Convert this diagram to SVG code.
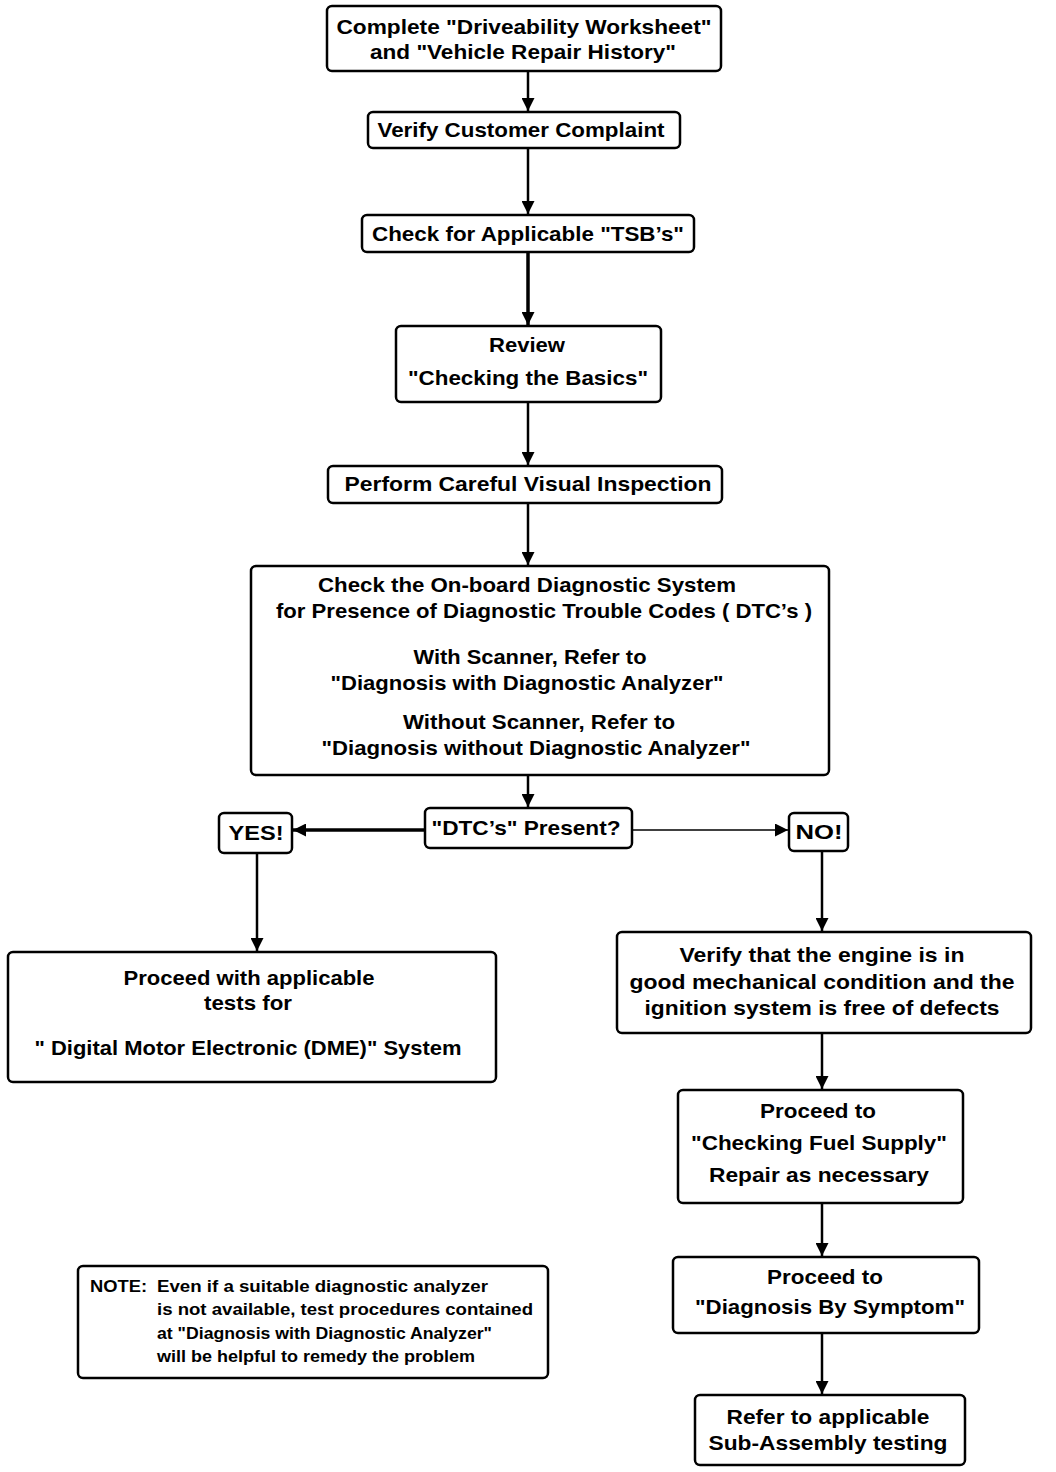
<svg xmlns="http://www.w3.org/2000/svg" width="1056" height="1472" viewBox="0 0 1056 1472">
<defs>
<marker id="ah" viewBox="0 0 10 10" refX="10" refY="5" markerWidth="14" markerHeight="13" markerUnits="userSpaceOnUse" orient="auto"><path d="M0,0 L10,5 L0,10 Z" fill="#000"/></marker>
</defs>
<style>
.box{fill:#fff;stroke:#000;stroke-width:2.5}
.t{font-family:"Liberation Sans",Arial,sans-serif;font-weight:bold;font-size:21px;text-anchor:middle;fill:#000}
.n{font-family:"Liberation Sans",Arial,sans-serif;font-weight:bold;font-size:16px;fill:#000}
.c{stroke:#000;stroke-width:2.5;fill:none;marker-end:url(#ah)}
.thin{stroke-width:1.5}
.thick{stroke-width:3.5}
</style>
<rect width="1056" height="1472" fill="#fff"/>
<g id="connectors">
<line class="c" x1="528" y1="71" x2="528" y2="111"/>
<line class="c" x1="528" y1="148" x2="528" y2="214"/>
<line class="c thick" x1="528" y1="252" x2="528" y2="325"/>
<line class="c" x1="528" y1="402" x2="528" y2="465"/>
<line class="c" x1="528" y1="503" x2="528" y2="565"/>
<line class="c" x1="528" y1="775" x2="528" y2="807"/>
<line class="c thick" x1="425" y1="830" x2="293" y2="830"/>
<line class="c thin" x1="632" y1="830" x2="788" y2="830"/>
<line class="c" x1="257" y1="853" x2="257" y2="951"/>
<line class="c" x1="822" y1="851" x2="822" y2="931"/>
<line class="c" x1="822" y1="1033" x2="822" y2="1089"/>
<line class="c" x1="822" y1="1203" x2="822" y2="1256"/>
<line class="c" x1="822" y1="1333" x2="822" y2="1394"/>
</g>
<g id="n1"><rect class="box" x="327" y="6" width="394" height="65" rx="5"/>
<text class="t" x="524" y="34" textLength="375" lengthAdjust="spacingAndGlyphs">Complete "Driveability Worksheet"</text>
<text class="t" x="523" y="59" textLength="306" lengthAdjust="spacingAndGlyphs">and "Vehicle Repair History"</text></g>
<g id="n2"><rect class="box" x="368" y="112" width="312" height="36" rx="5"/>
<text class="t" x="521" y="137" textLength="287" lengthAdjust="spacingAndGlyphs">Verify Customer Complaint</text></g>
<g id="n3"><rect class="box" x="362" y="215" width="332" height="37" rx="5"/>
<text class="t" x="528" y="241" textLength="312" lengthAdjust="spacingAndGlyphs">Check for Applicable "TSB’s"</text></g>
<g id="n4"><rect class="box" x="396" y="326" width="265" height="76" rx="5"/>
<text class="t" x="527" y="352" textLength="76" lengthAdjust="spacingAndGlyphs">Review</text>
<text class="t" x="528" y="385" textLength="240" lengthAdjust="spacingAndGlyphs">"Checking the Basics"</text></g>
<g id="n5"><rect class="box" x="328" y="466" width="394" height="37" rx="5"/>
<text class="t" x="528" y="491" textLength="367" lengthAdjust="spacingAndGlyphs">Perform Careful Visual Inspection</text></g>
<g id="n6"><rect class="box" x="251" y="566" width="578" height="209" rx="5"/>
<text class="t" x="527" y="592" textLength="418" lengthAdjust="spacingAndGlyphs">Check the On-board Diagnostic System</text>
<text class="t" x="544" y="618" textLength="536" lengthAdjust="spacingAndGlyphs">for Presence of Diagnostic Trouble Codes ( DTC’s )</text>
<text class="t" x="530" y="664" textLength="233" lengthAdjust="spacingAndGlyphs">With Scanner, Refer to</text>
<text class="t" x="527" y="690" textLength="393" lengthAdjust="spacingAndGlyphs">"Diagnosis with Diagnostic Analyzer"</text>
<text class="t" x="539" y="729" textLength="272" lengthAdjust="spacingAndGlyphs">Without Scanner, Refer to</text>
<text class="t" x="536" y="755" textLength="429" lengthAdjust="spacingAndGlyphs">"Diagnosis without Diagnostic Analyzer"</text></g>
<g id="n7"><rect class="box" x="425" y="808" width="207" height="40" rx="5"/>
<text class="t" x="526" y="835" textLength="189" lengthAdjust="spacingAndGlyphs">"DTC’s" Present?</text></g>
<g id="yes"><rect class="box" x="219" y="813" width="73" height="40" rx="5"/>
<text class="t" x="256" y="840" textLength="55" lengthAdjust="spacingAndGlyphs">YES!</text></g>
<g id="no"><rect class="box" x="789" y="813" width="59" height="38" rx="5"/>
<text class="t" x="819" y="839" textLength="47" lengthAdjust="spacingAndGlyphs">NO!</text></g>
<g id="n8"><rect class="box" x="8" y="952" width="488" height="130" rx="5"/>
<text class="t" x="249" y="985" textLength="251" lengthAdjust="spacingAndGlyphs">Proceed with applicable</text>
<text class="t" x="248" y="1010" textLength="88" lengthAdjust="spacingAndGlyphs">tests for</text>
<text class="t" x="248" y="1055" textLength="427" lengthAdjust="spacingAndGlyphs">" Digital Motor Electronic (DME)" System</text></g>
<g id="n9"><rect class="box" x="617" y="932" width="414" height="101" rx="5"/>
<text class="t" x="822" y="962" textLength="285" lengthAdjust="spacingAndGlyphs">Verify that the engine is in</text>
<text class="t" x="822" y="989" textLength="385" lengthAdjust="spacingAndGlyphs">good mechanical condition and the</text>
<text class="t" x="822" y="1015" textLength="355" lengthAdjust="spacingAndGlyphs">ignition system is free of defects</text></g>
<g id="n10"><rect class="box" x="678" y="1090" width="285" height="113" rx="5"/>
<text class="t" x="818" y="1118" textLength="116" lengthAdjust="spacingAndGlyphs">Proceed to</text>
<text class="t" x="819" y="1150" textLength="256" lengthAdjust="spacingAndGlyphs">"Checking Fuel Supply"</text>
<text class="t" x="819" y="1182" textLength="220" lengthAdjust="spacingAndGlyphs">Repair as necessary</text></g>
<g id="n11"><rect class="box" x="673" y="1257" width="306" height="76" rx="5"/>
<text class="t" x="825" y="1284" textLength="116" lengthAdjust="spacingAndGlyphs">Proceed to</text>
<text class="t" x="830" y="1314" textLength="270" lengthAdjust="spacingAndGlyphs">"Diagnosis By Symptom"</text></g>
<g id="n12"><rect class="box" x="695" y="1395" width="270" height="70" rx="5"/>
<text class="t" x="828" y="1424" textLength="203" lengthAdjust="spacingAndGlyphs">Refer to applicable</text>
<text class="t" x="828" y="1450" textLength="239" lengthAdjust="spacingAndGlyphs">Sub-Assembly testing</text></g>
<g id="note"><rect class="box" x="78" y="1266" width="470" height="112" rx="5"/>
<text class="n" x="90" y="1292" textLength="57" lengthAdjust="spacingAndGlyphs">NOTE:</text>
<text class="n" x="157" y="1292" textLength="331" lengthAdjust="spacingAndGlyphs">Even if  a suitable diagnostic analyzer</text>
<text class="n" x="157" y="1315" textLength="376" lengthAdjust="spacingAndGlyphs">is not available, test procedures contained</text>
<text class="n" x="157" y="1339" textLength="335" lengthAdjust="spacingAndGlyphs">at "Diagnosis with Diagnostic Analyzer"</text>
<text class="n" x="157" y="1362" textLength="318" lengthAdjust="spacingAndGlyphs">will be helpful to remedy the problem</text></g>
</svg>
